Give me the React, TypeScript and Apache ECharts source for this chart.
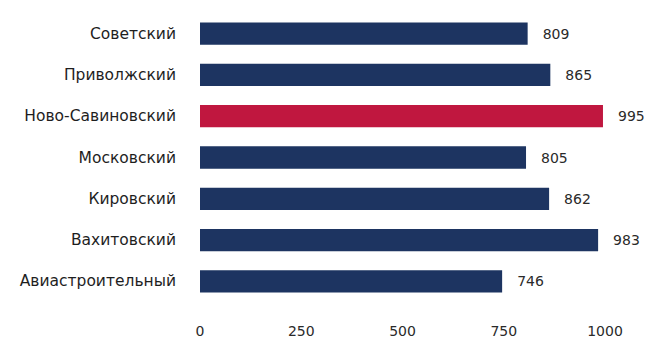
import React, { useEffect, useRef } from "react";
import * as echarts from "echarts";

const categories = [
  "Советский",
  "Приволжский",
  "Ново-Савиновский",
  "Московский",
  "Кировский",
  "Вахитовский",
  "Авиастроительный",
];
const values = [809, 865, 995, 805, 862, 983, 746];
const highlight = "Ново-Савиновский";
const xTicks = [0, 250, 500, 750, 1000];

export default function App() {
  const ref = useRef<HTMLDivElement>(null);
  useEffect(() => {
    if (!ref.current) return;
    const chart = echarts.init(ref.current, null, { renderer: "svg" });
    const cats = [...categories].reverse();
    const vals = [...values].reverse();
    chart.setOption({
      animation: false,
      backgroundColor: "#ffffff",
      grid: { left: 200, right: 41, top: 13, bottom: 45, containLabel: false },
      xAxis: {
        type: "value",
        min: xTicks[0],
        max: xTicks[xTicks.length - 1],
        interval: 250,
        axisLine: { show: false },
        axisTick: { show: false },
        splitLine: { show: false },
        axisLabel: {
          color: "#2a2a2a",
          fontFamily: "DejaVu Sans",
          fontSize: 14,
          margin: 22,
          formatter: (v: number) => String(v),
        },
      },
      yAxis: {
        type: "category",
        data: cats,
        axisLine: { show: false },
        axisTick: { show: false },
        axisLabel: {
          color: "#1e1e1e",
          fontFamily: "DejaVu Sans",
          fontSize: 15.5,
          margin: 24,
        },
      },
      series: [
        {
          type: "bar",
          data: vals.map((v, i) => ({
            value: v,
            itemStyle: { color: cats[i] === highlight ? "#c0173f" : "#1d3461" },
          })),
          barWidth: "54%",
          label: {
            show: true,
            position: "right",
            distance: 15,
            color: "#2a2a2a",
            fontFamily: "DejaVu Sans",
            fontSize: 14,
          },
        },
      ],
    });
    return () => chart.dispose();
  }, []);
  return (
    <div
      ref={ref}
      style={{ position: "absolute", left: 0, top: 0, width: 646, height: 347 }}
    />
  );
}
